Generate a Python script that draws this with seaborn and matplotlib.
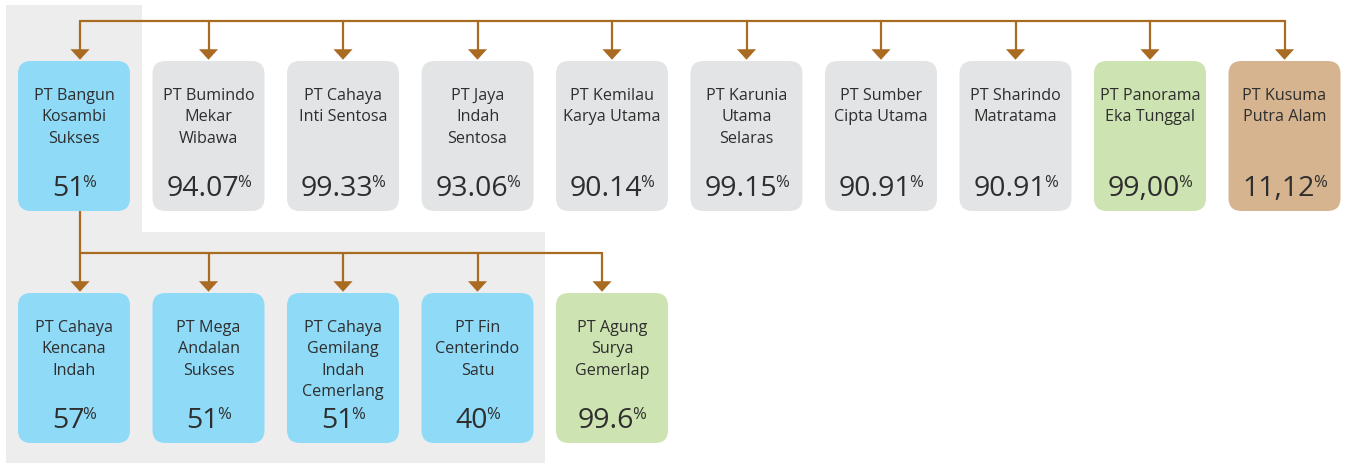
"""
Org chart of company ownership percentages, drawn on a seaborn/matplotlib canvas.
"""

import matplotlib.pyplot as plt
import pandas as pd
import seaborn as sns
from matplotlib.patches import FancyBboxPatch, Rectangle

# Top row (children of the parent company)
top_names = [
    "PT Bangun\nKosambi\nSukses",
    "PT Bumindo\nMekar\nWibawa",
    "PT Cahaya\nInti Sentosa",
    "PT Jaya\nIndah\nSentosa",
    "PT Kemilau\nKarya Utama",
    "PT Karunia\nUtama\nSelaras",
    "PT Sumber\nCipta Utama",
    "PT Sharindo\nMatratama",
    "PT Panorama\nEka Tunggal",
    "PT Kusuma\nPutra Alam",
]
top_values = ["51", "94.07", "99.33", "93.06", "90.14", "99.15", "90.91", "90.91", "99,00", "11,12"]
top_groups = ["blue", "gray", "gray", "gray", "gray", "gray", "gray", "gray", "green", "tan"]

# Bottom row (children of PT Bangun Kosambi Sukses)
bottom_names = [
    "PT Cahaya\nKencana\nIndah",
    "PT Mega\nAndalan\nSukses",
    "PT Cahaya\nGemilang\nIndah\nCemerlang",
    "PT Fin\nCenterindo\nSatu",
    "PT Agung\nSurya\nGemerlap",
]
bottom_values = ["57", "51", "51", "40", "99.6"]
bottom_groups = ["blue", "blue", "blue", "blue", "green"]

palette = {"blue": "#8fdaf7", "gray": "#e3e4e6", "green": "#cde3b1", "tan": "#d6b48f"}
LINE = "#a96b22"
TEXT = "#2e2e2e"

sns.set_theme(style="white")
plt.rcParams["font.family"] = ["Open Sans", "DejaVu Sans"]

W, H = 1346, 464
fig = plt.figure(figsize=(W / 100, H / 100), dpi=100)
ax = fig.add_axes([0, 0, 1, 1])
ax.set_xlim(0, W)
ax.set_ylim(H, 0)
ax.axis("off")

# light gray L-shaped background behind the sub-group
ax.add_patch(Rectangle((6, 6), 136, 228, color="#ededed", lw=0, zorder=0))
ax.add_patch(Rectangle((6, 233), 539, 231, color="#ededed", lw=0, zorder=0))

BOX_W, BOX_H, STEP = 112, 150, 134.5
TOP_Y, BOT_Y = 62, 294


def draw_row(names, values, groups, top):
    renderer = fig.canvas.get_renderer()
    for i, (name, val, grp) in enumerate(zip(names, values, groups)):
        x0 = 18 + STEP * i
        cx = x0 + BOX_W / 2
        ax.add_patch(FancyBboxPatch((x0 + 13, top + 13), BOX_W - 26, BOX_H - 26,
                                    boxstyle="round,pad=13", fc=palette[grp],
                                    ec="none", zorder=2))
        for j, line in enumerate(name.split("\n")):
            ax.text(cx, top + 38 + 21.3 * j, line, ha="center", va="baseline",
                    fontsize=11.6, color=TEXT, zorder=3)
        num = ax.text(0, top + 134, val, ha="left", va="baseline",
                      fontsize=20.5, color=TEXT, zorder=3)
        pct = ax.text(0, top + 125, "%", ha="left", va="baseline",
                      fontsize=12, color=TEXT, zorder=3)
        wn = num.get_window_extent(renderer).width
        wp = pct.get_window_extent(renderer).width
        gap = -2
        left = cx - (wn + gap + wp) / 2
        num.set_x(left)
        pct.set_x(left + wn + gap)


draw_row(top_names, top_values, top_groups, TOP_Y)
draw_row(bottom_names, bottom_values, bottom_groups, BOT_Y)

# connectors
top_arrow_x = [80] + [18 + STEP * i + BOX_W / 2 for i in range(1, len(top_names))]
bot_arrow_x = [80] + [18 + STEP * i + BOX_W / 2 for i in range(1, len(bottom_names) - 1)] + [602]

lw = 1.6
ax.plot([top_arrow_x[0], top_arrow_x[-1]], [22, 22], color=LINE, lw=lw, zorder=1)
for x in top_arrow_x:
    ax.plot([x, x], [22, 52], color=LINE, lw=lw, zorder=1)
ax.plot([80, 80], [TOP_Y + BOX_H, 254], color=LINE, lw=lw, zorder=1)
ax.plot([bot_arrow_x[0], bot_arrow_x[-1]], [254, 254], color=LINE, lw=lw, zorder=1)
for x in bot_arrow_x:
    ax.plot([x, x], [254, 284], color=LINE, lw=lw, zorder=1)

heads = pd.DataFrame({
    "x": top_arrow_x + bot_arrow_x,
    "y": [TOP_Y - 6.5] * len(top_arrow_x) + [BOT_Y - 6.5] * len(bot_arrow_x),
})
head_marker = [(-1, 0.55), (1, 0.55), (0, -0.55), (-1, 0.55)]
sns.scatterplot(data=heads, x="x", y="y", ax=ax, marker=head_marker, s=190,
                color=LINE, edgecolor="none", linewidth=0, zorder=4, legend=False)
ax.set_xlim(0, W)
ax.set_ylim(H, 0)
ax.axis("off")

fig.savefig("out.png", dpi=100)
